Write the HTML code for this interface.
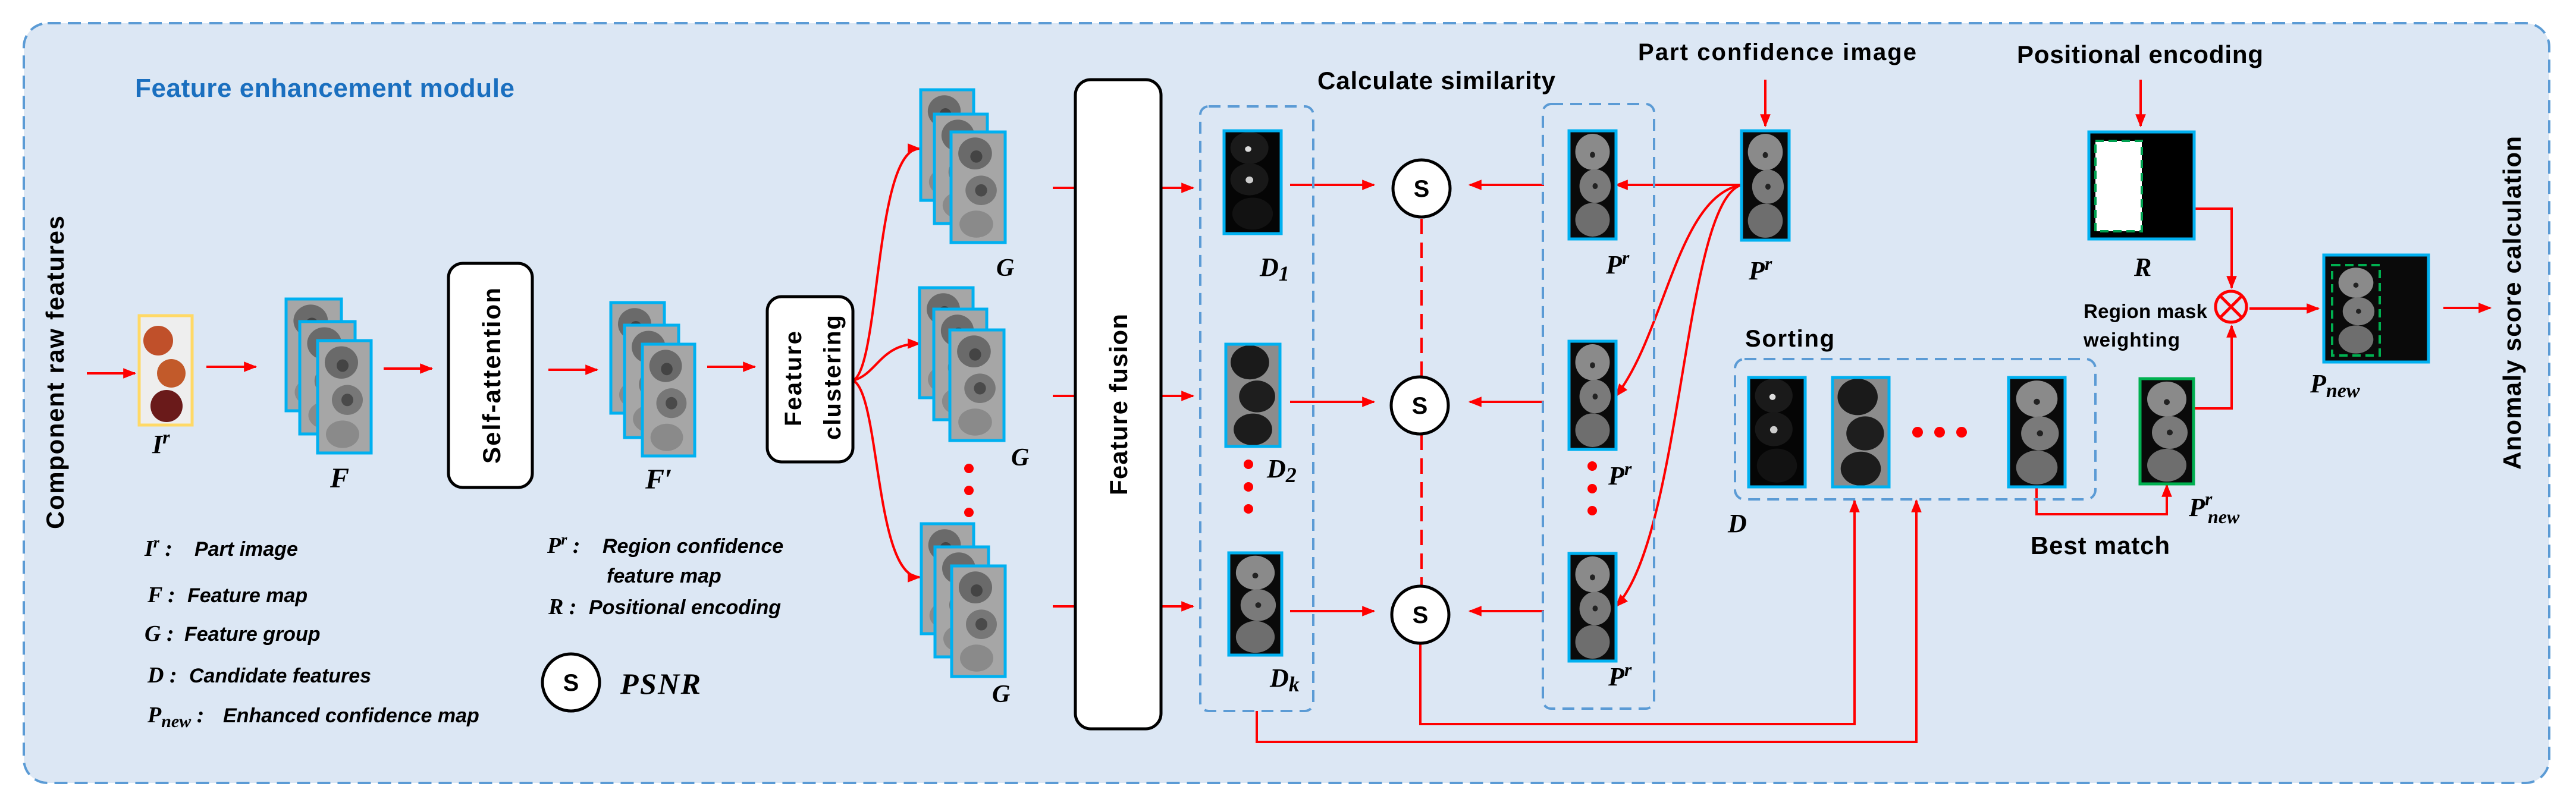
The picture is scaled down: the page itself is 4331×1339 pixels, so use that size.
<!DOCTYPE html>
<html><head><meta charset="utf-8"><style>
html,body{margin:0;padding:0;background:#fff;}
svg{display:block;}
.t{font-family:"Liberation Sans",sans-serif;font-weight:bold;fill:#000;}
.v{font-family:"Liberation Serif",serif;font-weight:bold;font-style:italic;fill:#000;}
.l{font-family:"Liberation Sans",sans-serif;font-style:italic;font-weight:bold;fill:#000;font-size:34px;}
</style></head><body>
<svg width="4331" height="1339" viewBox="0 0 4331 1339" xmlns="http://www.w3.org/2000/svg">
<defs>
<marker id="a" viewBox="0 0 10 10" refX="9" refY="5" markerWidth="22" markerHeight="22" markerUnits="userSpaceOnUse" orient="auto"><path d="M0,1 L10,5 L0,9 Z" fill="#f00" stroke="none"/></marker>
<symbol id="fruit" viewBox="0 0 90 180" preserveAspectRatio="none">
<g stroke="none">
<rect width="90" height="180" fill="#0a0a0a"/>
<ellipse cx="45" cy="35" rx="33" ry="30" fill="#8a8a8a"/>
<ellipse cx="50" cy="92" rx="30" ry="28" fill="#7a7a7a"/>
<ellipse cx="45" cy="148" rx="33" ry="28" fill="#6e6e6e"/>
<circle cx="45" cy="40" r="5" fill="#222"/><circle cx="50" cy="92" r="5" fill="#222"/>
</g>
</symbol>
<symbol id="dark" viewBox="0 0 90 180" preserveAspectRatio="none">
<g stroke="none">
<rect width="90" height="180" fill="#050505"/>
<ellipse cx="40" cy="30" rx="30" ry="28" fill="#1a1a1a"/>
<ellipse cx="40" cy="85" rx="30" ry="28" fill="#181818"/>
<ellipse cx="45" cy="145" rx="32" ry="28" fill="#121212"/>
<circle cx="38" cy="32" r="5" fill="#ddd"/><circle cx="40" cy="86" r="6" fill="#ccc"/>
</g>
</symbol>
<symbol id="inv" viewBox="0 0 90 180" preserveAspectRatio="none">
<g stroke="none">
<rect width="90" height="180" fill="#8c8c8c"/>
<ellipse cx="40" cy="32" rx="32" ry="30" fill="#1a1a1a"/>
<ellipse cx="52" cy="92" rx="30" ry="28" fill="#1e1e1e"/>
<ellipse cx="45" cy="150" rx="32" ry="28" fill="#1c1c1c"/>
</g>
</symbol>
<symbol id="feat" viewBox="0 0 90 180" preserveAspectRatio="none">
<g stroke="none">
<rect width="90" height="180" fill="#a6a6a6"/>
<ellipse cx="40" cy="35" rx="28" ry="26" fill="#6a6a6a"/>
<ellipse cx="50" cy="95" rx="26" ry="24" fill="#777"/>
<ellipse cx="42" cy="150" rx="28" ry="22" fill="#8a8a8a"/>
<circle cx="42" cy="40" r="10" fill="#444"/><circle cx="50" cy="95" r="10" fill="#4a4a4a"/>
</g>
</symbol>
</defs>
<rect x="0" y="0" width="4331" height="1339" fill="#fff"/>
<rect x="40" y="39" width="4246" height="1278" rx="40" fill="#dce7f4" stroke="#5b9bd5" stroke-width="4" stroke-dasharray="22,12"/>

<text class="t" x="227" y="163" font-size="44" style="fill:#1a6fbf" textLength="638">Feature enhancement module</text>
<text class="t" x="0" y="0" font-size="42" transform="translate(107,890) rotate(-90)" textLength="527">Component raw features</text>

<g stroke="#f00" stroke-width="4" fill="none">
<line x1="146" y1="628" x2="227" y2="628" marker-end="url(#a)"/>
<line x1="347" y1="617" x2="430" y2="617" marker-end="url(#a)"/>
<line x1="645" y1="620" x2="726" y2="620" marker-end="url(#a)"/>
<line x1="922" y1="622" x2="1004" y2="622" marker-end="url(#a)"/>
<line x1="1189" y1="617" x2="1269" y2="617" marker-end="url(#a)"/>
<path d="M1434,640 C1480,620 1470,250 1546,250" marker-end="url(#a)"/>
<path d="M1434,640 C1475,630 1480,578 1546,578" marker-end="url(#a)"/>
<path d="M1434,640 C1480,660 1470,971 1546,971" marker-end="url(#a)"/>
<line x1="1770" y1="316" x2="1810" y2="316"/><line x1="1770" y1="666" x2="1810" y2="666"/><line x1="1770" y1="1020" x2="1810" y2="1020"/>
<line x1="1953" y1="316" x2="2006" y2="316" marker-end="url(#a)"/>
<line x1="1953" y1="666" x2="2006" y2="666" marker-end="url(#a)"/>
<line x1="1953" y1="1020" x2="2006" y2="1020" marker-end="url(#a)"/>
<line x1="2169" y1="311" x2="2310" y2="311" marker-end="url(#a)"/>
<line x1="2169" y1="676" x2="2310" y2="676" marker-end="url(#a)"/>
<line x1="2169" y1="1028" x2="2310" y2="1028" marker-end="url(#a)"/>
<line x1="2596" y1="311" x2="2471" y2="311" marker-end="url(#a)"/>
<line x1="2596" y1="676" x2="2471" y2="676" marker-end="url(#a)"/>
<line x1="2596" y1="1028" x2="2471" y2="1028" marker-end="url(#a)"/>
<line x1="2390" y1="368" x2="2390" y2="633" stroke-dasharray="26,14"/>
<line x1="2390" y1="731" x2="2390" y2="985" stroke-dasharray="26,14"/>
<line x1="2928" y1="311" x2="2717" y2="311" marker-end="url(#a)"/>
<path d="M2928,311 C2820,330 2800,560 2717,666" marker-end="url(#a)"/>
<path d="M2928,311 C2830,340 2830,900 2717,1020" marker-end="url(#a)"/>
<line x1="2968" y1="134" x2="2968" y2="212" marker-end="url(#a)"/>
<line x1="3599" y1="134" x2="3599" y2="212" marker-end="url(#a)"/>
<polyline points="2388,1082 2388,1218 3118,1218 3118,842" marker-end="url(#a)"/>
<polyline points="2113,1196 2113,1248 3222,1248 3222,842" marker-end="url(#a)"/>
<polyline points="3424,819 3424,865 3643,865 3643,816" marker-end="url(#a)"/>
<polyline points="3689,351 3752,351 3752,484" marker-end="url(#a)"/>
<polyline points="3688,687 3752,687 3752,548" marker-end="url(#a)"/>
<line x1="3782" y1="519" x2="3898" y2="519" marker-end="url(#a)"/>
<line x1="4108" y1="518" x2="4187" y2="518" marker-end="url(#a)"/>
</g>

<!-- I^r -->
<rect x="234" y="531" width="89" height="184" fill="#eee" stroke="#ffd966" stroke-width="5"/>
<circle cx="266" cy="573" r="25" fill="#c0502a"/><circle cx="288" cy="628" r="24" fill="#c25a2a"/><circle cx="280" cy="683" r="27" fill="#6a1a1a"/>
<text class="v" x="256" y="762" font-size="44">I<tspan dy="-16" font-size="32">r</tspan></text>

<g>
<use href="#feat" x="481" y="503" width="93" height="188"/>
<use href="#feat" x="504" y="541" width="93" height="189"/>
<use href="#feat" x="534" y="573" width="90" height="189"/>
</g>
<g stroke="#00b0f0" stroke-width="5" fill="none">
<rect x="481" y="503" width="93" height="188"/>
</g>
<!-- stacks drawn in order with borders -->
<g stroke="#00b0f0" stroke-width="5">
<use href="#feat" x="481" y="503" width="93" height="188"/><rect x="481" y="503" width="93" height="188" fill="none"/>
<use href="#feat" x="504" y="541" width="93" height="189"/><rect x="504" y="541" width="93" height="189" fill="none"/>
<use href="#feat" x="534" y="573" width="90" height="189"/><rect x="534" y="573" width="90" height="189" fill="none"/>
<use href="#feat" x="1027" y="509" width="90" height="186"/><rect x="1027" y="509" width="90" height="186" fill="none"/>
<use href="#feat" x="1050" y="547" width="91" height="189"/><rect x="1050" y="547" width="91" height="189" fill="none"/>
<use href="#feat" x="1080" y="579" width="88" height="188"/><rect x="1080" y="579" width="88" height="188" fill="none"/>
<use href="#feat" x="1548" y="151" width="89" height="186"/><rect x="1548" y="151" width="89" height="186" fill="none"/>
<use href="#feat" x="1571" y="192" width="89" height="184"/><rect x="1571" y="192" width="89" height="184" fill="none"/>
<use href="#feat" x="1599" y="222" width="91" height="186"/><rect x="1599" y="222" width="91" height="186" fill="none"/>
<use href="#feat" x="1546" y="484" width="90" height="185"/><rect x="1546" y="484" width="90" height="185" fill="none"/>
<use href="#feat" x="1570" y="520" width="89" height="186"/><rect x="1570" y="520" width="89" height="186" fill="none"/>
<use href="#feat" x="1597" y="555" width="91" height="186"/><rect x="1597" y="555" width="91" height="186" fill="none"/>
<use href="#feat" x="1549" y="881" width="88" height="185"/><rect x="1549" y="881" width="88" height="185" fill="none"/>
<use href="#feat" x="1572" y="920" width="90" height="185"/><rect x="1572" y="920" width="90" height="185" fill="none"/>
<use href="#feat" x="1600" y="952" width="90" height="186"/><rect x="1600" y="952" width="90" height="186" fill="none"/>
</g>
<text class="v" x="555" y="820" font-size="48">F</text>
<text class="v" x="1085" y="822" font-size="48">F′</text>
<text class="v" x="1675" y="464" font-size="42">G</text>
<text class="v" x="1700" y="783" font-size="42">G</text>
<text class="v" x="1668" y="1181" font-size="42">G</text>
<g fill="#f00"><circle cx="1629" cy="788" r="8"/><circle cx="1629" cy="825" r="8"/><circle cx="1629" cy="862" r="8"/>
<circle cx="2099" cy="781" r="8"/><circle cx="2099" cy="819" r="8"/><circle cx="2099" cy="856" r="8"/>
<circle cx="2677" cy="784" r="8"/><circle cx="2677" cy="822" r="8"/><circle cx="2677" cy="859" r="8"/>
<circle cx="3224" cy="727" r="9"/><circle cx="3261" cy="727" r="9"/><circle cx="3298" cy="727" r="9"/></g>

<rect x="754" y="443" width="141" height="377" rx="24" fill="#fff" stroke="#000" stroke-width="5"/>
<text class="t" x="0" y="0" font-size="42" transform="translate(841,780) rotate(-90)" textLength="296">Self-attention</text>
<rect x="1290" y="499" width="144" height="278" rx="24" fill="#fff" stroke="#000" stroke-width="5"/>
<text class="t" x="0" y="0" font-size="40" transform="translate(1347,717) rotate(-90)" textLength="160">Feature</text>
<text class="t" x="0" y="0" font-size="40" transform="translate(1413,740) rotate(-90)" textLength="210">clustering</text>
<rect x="1808" y="134" width="144" height="1092" rx="26" fill="#fff" stroke="#000" stroke-width="5"/>
<text class="t" x="0" y="0" font-size="42" transform="translate(1895,833) rotate(-90)" textLength="305">Feature fusion</text>

<g fill="none" stroke="#5b9bd5" stroke-width="4" stroke-dasharray="20,12">
<rect x="2018" y="179" width="190" height="1017" rx="14"/>
<rect x="2594" y="175" width="187" height="1017" rx="14"/>
<rect x="2917" y="604" width="606" height="236" rx="16"/>
</g>
<text class="t" x="2215" y="150" font-size="42" textLength="400">Calculate similarity</text>

<g stroke="#00b0f0" stroke-width="5">
<use href="#dark" x="2058" y="220" width="96" height="173"/><rect x="2058" y="220" width="96" height="173" fill="none"/>
<use href="#inv" x="2061" y="579" width="91" height="172"/><rect x="2061" y="579" width="91" height="172" fill="none"/>
<use href="#fruit" x="2066" y="930" width="89" height="172"/><rect x="2066" y="930" width="89" height="172" fill="none"/>
<use href="#fruit" x="2638" y="220" width="79" height="182"/><rect x="2638" y="220" width="79" height="182" fill="none"/>
<use href="#fruit" x="2638" y="574" width="79" height="182"/><rect x="2638" y="574" width="79" height="182" fill="none"/>
<use href="#fruit" x="2638" y="931" width="79" height="181"/><rect x="2638" y="931" width="79" height="181" fill="none"/>
<use href="#fruit" x="2928" y="220" width="80" height="184"/><rect x="2928" y="220" width="80" height="184" fill="none"/>
<use href="#dark" x="2940" y="635" width="95" height="184"/><rect x="2940" y="635" width="95" height="184" fill="none"/>
<use href="#inv" x="3081" y="635" width="95" height="184"/><rect x="3081" y="635" width="95" height="184" fill="none"/>
<use href="#fruit" x="3377" y="635" width="95" height="184"/><rect x="3377" y="635" width="95" height="184" fill="none"/>
<rect x="3512" y="222" width="177" height="180" fill="#000"/>
<rect x="3907" y="429" width="176" height="180" fill="#0a0a0a"/>
</g>
<rect x="3523" y="237" width="78" height="152" fill="#fff" stroke="#00a050" stroke-width="4" stroke-dasharray="14,8"/>
<use href="#fruit" x="3921" y="446" width="80" height="152"/>
<rect x="3921" y="446" width="80" height="152" fill="none" stroke="#00b050" stroke-width="4" stroke-dasharray="14,8"/>
<use href="#fruit" x="3598" y="637" width="90" height="177"/>
<rect x="3598" y="637" width="90" height="177" fill="none" stroke="#00b050" stroke-width="5"/>

<text class="v" x="2118" y="464" font-size="44">D<tspan font-size="36" dy="8">1</tspan></text>
<text class="v" x="2130" y="803" font-size="44">D<tspan font-size="36" dy="8">2</tspan></text>
<text class="v" x="2135" y="1155" font-size="44">D<tspan font-size="36" dy="8">k</tspan></text>
<text class="v" x="2700" y="460" font-size="44">P<tspan font-size="32" dy="-16">r</tspan></text>
<text class="v" x="2704" y="815" font-size="44">P<tspan font-size="32" dy="-16">r</tspan></text>
<text class="v" x="2704" y="1153" font-size="44">P<tspan font-size="32" dy="-16">r</tspan></text>
<text class="v" x="2940" y="470" font-size="44">P<tspan font-size="32" dy="-16">r</tspan></text>
<text class="v" x="3588" y="464" font-size="44">R</text>
<text class="v" x="2905" y="895" font-size="44">D</text>
<text class="v" x="3680" y="868" font-size="44">P<tspan font-size="32" dy="-18">r</tspan><tspan font-size="32" x="3712" dy="30">new</tspan></text>
<text class="v" x="3884" y="660" font-size="44">P<tspan font-size="34" dy="8">new</tspan></text>

<text class="t" x="2754" y="101" font-size="40" textLength="468">Part confidence image</text>
<text class="t" x="3391" y="106" font-size="42" textLength="414">Positional encoding</text>
<text class="t" x="2934" y="583" font-size="40" textLength="150">Sorting</text>
<text class="t" x="3414" y="932" font-size="42" textLength="234">Best match</text>
<text class="t" x="3503" y="535" font-size="33" textLength="208">Region mask</text>
<text class="t" x="3503" y="583" font-size="33" textLength="162">weighting</text>
<text class="t" x="0" y="0" font-size="42" transform="translate(4238,790) rotate(-90)" textLength="561">Anomaly score calculation</text>

<g fill="#fff" stroke="#000" stroke-width="5">
<circle cx="2390" cy="317" r="48"/><circle cx="2387" cy="682" r="48"/><circle cx="2388" cy="1034" r="48"/><circle cx="960" cy="1148" r="48"/>
</g>
<g class="t" font-size="40" text-anchor="middle">
<text x="2390" y="331">S</text><text x="2387" y="696">S</text><text x="2388" y="1048">S</text><text x="960" y="1162">S</text>
</g>
<circle cx="3751" cy="516" r="26" fill="none" stroke="#f00" stroke-width="5"/>
<line x1="3733" y1="498" x2="3769" y2="534" stroke="#f00" stroke-width="5"/><line x1="3769" y1="498" x2="3733" y2="534" stroke="#f00" stroke-width="5"/>

<text class="v" x="243" y="935" font-size="38">I<tspan font-size="26" dy="-14">r</tspan><tspan dy="14"> :</tspan></text>
<text class="l" x="327" y="935">Part image</text>
<text class="v" x="248" y="1013" font-size="38">F :</text>
<text class="l" x="315" y="1013">Feature map</text>
<text class="v" x="243" y="1078" font-size="38">G :</text>
<text class="l" x="310" y="1078">Feature group</text>
<text class="v" x="248" y="1148" font-size="38">D :</text>
<text class="l" x="318" y="1148">Candidate features</text>
<text class="v" x="248" y="1215" font-size="38">P<tspan font-size="30" dy="8">new</tspan><tspan dy="-8"> :</tspan></text>
<text class="l" x="375" y="1215">Enhanced confidence map</text>
<text class="v" x="920" y="930" font-size="38">P<tspan font-size="26" dy="-14">r</tspan><tspan dy="14"> :</tspan></text>
<text class="l" x="1013" y="930">Region confidence</text>
<text class="l" x="1020" y="980">feature map</text>
<text class="v" x="922" y="1033" font-size="38">R :</text>
<text class="l" x="990" y="1033">Positional encoding</text>
<text class="v" x="1043" y="1167" font-size="50" textLength="135">PSNR</text>
</svg>
</body></html>
